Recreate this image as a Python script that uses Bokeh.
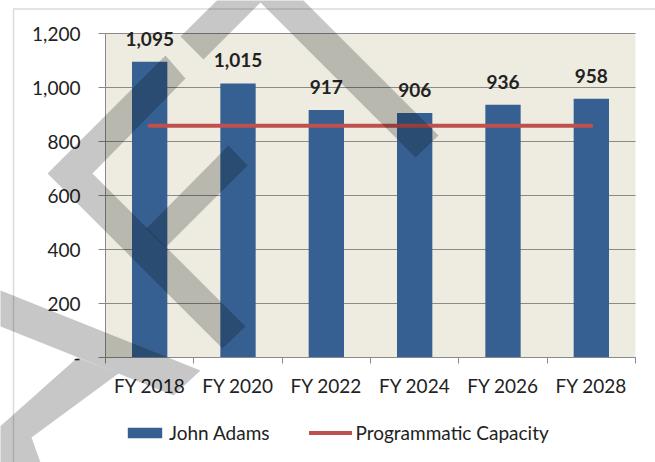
from bokeh.plotting import figure
from bokeh.models import (ColumnDataSource, FixedTicker, Legend, LegendItem,
                          LabelSet, PolyAnnotation, BoxAnnotation, Range1d)
from bokeh.core.properties import value
from bokeh.embed import file_html
from bokeh.resources import INLINE

# ---- data ----
categories = ["FY 2018", "FY 2020", "FY 2022", "FY 2024", "FY 2026", "FY 2028"]
john_adams = [1095, 1015, 917, 906, 936, 958]
programmatic_capacity = [858, 858, 858, 858, 858, 858]
y_ticks = [0, 200, 400, 600, 800, 1000, 1200]
y_tick_labels = ["-", "200", "400", "600", "800", "1,000", "1,200"]

# ---- styles / layout (page pixels) ----
FONT = "Lato"
TEXT = "#222222"
GRID = "#8a8a8a"
BAR = "#366092"
RED = "#C0504D"
BG = "#EEECE1"
W, H = 655, 462
AREA_L, AREA_R, AREA_T, AREA_B = 105, 635, 33, 357   # plot-area box in the page

n = len(categories)
y_max = y_ticks[-1]
px_x = (AREA_R - AREA_L) / n
px_y = (AREA_B - AREA_T) / y_max
x_range = Range1d(-AREA_L / px_x, n + (W - AREA_R) / px_x)
y_range = Range1d(-(H - AREA_B) / px_y, y_max + AREA_T / px_y)

x_pos = [i + 0.5 for i in range(n)]
src = ColumnDataSource(dict(
    x=x_pos, cat=categories, val=john_adams, cap=programmatic_capacity,
    lbl=[f"{v:,}" for v in john_adams]))
grid_src = ColumnDataSource(dict(y=y_ticks, x0=[0] * len(y_ticks),
                                 x1=[n] * len(y_ticks)))

p = figure(width=W, height=H, output_backend="svg", toolbar_location=None,
           x_range=x_range, y_range=y_range, min_border=0,
           min_border_left=0, min_border_right=0, min_border_top=0,
           min_border_bottom=0)
p.background_fill_color = "white"
p.border_fill_color = "white"
p.outline_line_color = None
p.xgrid.visible = False
p.ygrid.visible = False

# plot-area background
p.add_layout(BoxAnnotation(left=0, right=n, bottom=0, top=y_max,
                           fill_color=BG, fill_alpha=1, line_color=None,
                           level="underlay"))

# horizontal gridlines
p.segment(x0="x0", x1="x1", y0="y", y1="y", source=grid_src,
          line_color=GRID, line_width=1)

bars = p.vbar(x="x", top="val", bottom=0, width=0.4, source=src,
              fill_color=BAR, line_color=None)
line = p.line("x", "cap", source=src, line_color=RED, line_width=4,
              line_cap="round")

labels = LabelSet(x="x", y="val", text="lbl", source=src, text_align="center",
                  text_baseline="alphabetic", y_offset=16,
                  text_font=value(FONT), text_font_style="bold",
                  text_font_size="19px", text_color=TEXT)
p.add_layout(labels)

# y axis
p.yaxis.fixed_location = 0
p.yaxis.bounds = (0, y_max)
p.yaxis.ticker = FixedTicker(ticks=y_ticks)
p.yaxis.major_label_overrides = dict(zip(y_ticks, y_tick_labels))
p.yaxis.axis_line_color = GRID
p.yaxis.major_tick_line_color = GRID
p.yaxis.major_tick_out = 7
p.yaxis.major_tick_in = 0
p.yaxis.minor_tick_line_color = None
p.yaxis.major_label_standoff = 18
p.yaxis.major_label_text_font = FONT
p.yaxis.major_label_text_font_size = "19px"
p.yaxis.major_label_text_color = TEXT

# x axis
p.xaxis.fixed_location = 0
p.xaxis.bounds = (0, n)
p.xaxis.ticker = FixedTicker(ticks=x_pos, minor_ticks=list(range(n + 1)))
p.xaxis.major_label_overrides = dict(zip(x_pos, categories))
p.xaxis.axis_line_color = GRID
p.xaxis.major_tick_line_color = None
p.xaxis.major_tick_out = 0
p.xaxis.major_tick_in = 0
p.xaxis.minor_tick_line_color = GRID
p.xaxis.minor_tick_out = 6
p.xaxis.minor_tick_in = 0
p.xaxis.major_label_standoff = 10
p.xaxis.major_label_text_font = FONT
p.xaxis.major_label_text_font_size = "19px"
p.xaxis.major_label_text_color = TEXT

legend = Legend(items=[LegendItem(label="John Adams", renderers=[bars]),
                       LegendItem(label="Programmatic Capacity", renderers=[line])],
                orientation="horizontal", location=(123, 18),
                glyph_width=43, glyph_height=13, label_standoff=3, spacing=40,
                padding=0, margin=0, border_line_color=None,
                background_fill_alpha=0, label_text_font=FONT,
                label_text_font_size="19px", label_text_color=TEXT)
p.add_layout(legend)

# ---- chart border and "DRAFT" watermark (decoration; page pixels) ----
p.add_layout(PolyAnnotation(xs=[13, 13, W + 20, W + 20],
                            ys=[-20, H - 8.5, H - 8.5, -20],
                            xs_units="screen", ys_units="screen",
                            fill_alpha=0, line_color="#8c8c8c", line_width=1.5))

watermark = [
    [(180, 36), (260, -43), (438, 135), (415, 157), (260, 2), (203, 59)],
    [(165, 55), (47, 173), (222, 348), (245, 326), (92, 173), (185, 78)],
    [(228, 145), (247, 165), (165, 247), (146, 228)],
    [(-5, 288), (200, 370), (173, 395), (-5, 324)],
    [(77, 357), (118, 373), (31, 437), (40, 462), (-5, 462), (-5, 430)],
]
for poly in watermark:
    p.add_layout(PolyAnnotation(
        xs=[a for a, _ in poly], ys=[H - b for _, b in poly],
        xs_units="screen", ys_units="screen",
        fill_color="black", fill_alpha=0.22, line_color=None))

open("out.html", "w").write(file_html(p, INLINE))
